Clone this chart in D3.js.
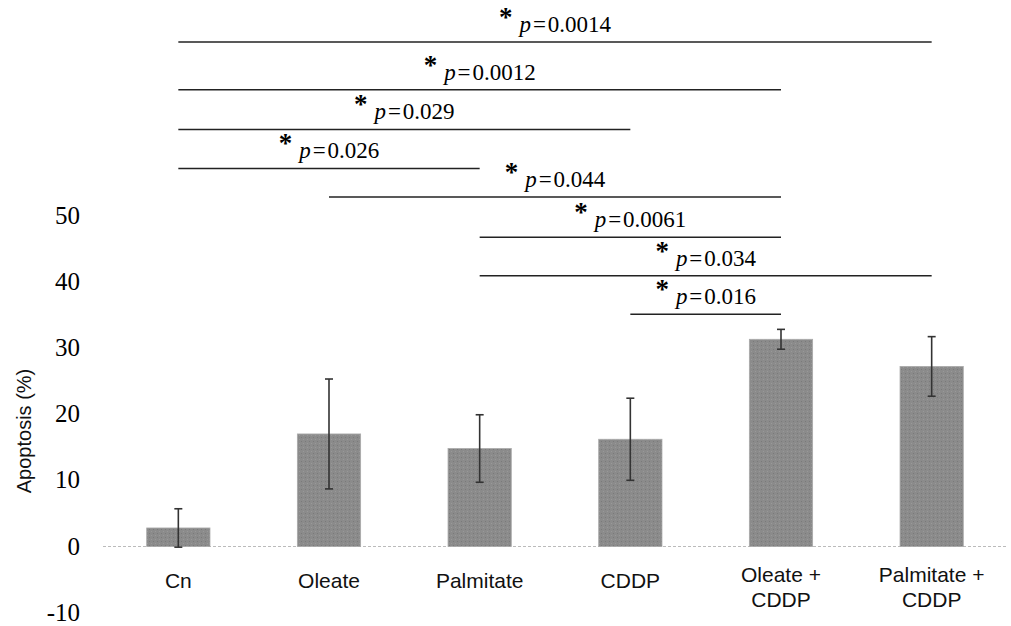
<!DOCTYPE html>
<html>
<head>
<meta charset="utf-8">
<script src="https://cdn.jsdelivr.net/npm/d3@7"></script>
<style>
  body { margin: 0; background: #fff; }
</style>
</head>
<body>
<div id="chart"></div>
<script>
// groups and values (apoptosis %, mean and error)
var groups = ["Cn", "Oleate", "Palmitate", "CDDP", "Oleate + CDDP", "Palmitate + CDDP"];
var means = [2.8, 17.0, 14.8, 16.2, 31.3, 27.2];
var errors = [2.9, 8.3, 5.1, 6.2, 1.5, 4.5];
var yTicks = [-10, 0, 10, 20, 30, 40, 50];

// significance brackets: from group, to group, bracket height (% units), p text
var sigFrom = [0, 0, 0, 0, 1, 2, 2, 3];
var sigTo = [5, 4, 3, 2, 4, 4, 5, 4];
var sigLevel = [76.2, 69.0, 63.0, 57.1, 52.8, 46.7, 40.9, 35.1];
var sigP = ["0.0014", "0.0012", "0.029", "0.026", "0.044", "0.0061", "0.034", "0.016"];

var width = 1011, height = 626;

var svg = d3.select("#chart")
    .append("svg")
    .attr("width", width)
    .attr("height", height);

var x = d3.scaleBand()
    .domain(groups)
    .range([103, 1007])
    .paddingInner(0.58)
    .paddingOuter(0.29);

var y = d3.scaleLinear()
    .domain([-10, 50])
    .range([612.7, 215.5]);

// dotted texture for bars
var pat = svg.append("defs").append("pattern")
    .attr("id", "dots")
    .attr("width", 4)
    .attr("height", 4)
    .attr("patternUnits", "userSpaceOnUse");
pat.append("rect").attr("width", 4).attr("height", 4).attr("fill", "#8b8b8b");
pat.append("rect").attr("x", 1).attr("y", 1).attr("width", 1).attr("height", 1).attr("fill", "#7a7a7a");
pat.append("rect").attr("x", 3).attr("y", 3).attr("width", 1).attr("height", 1).attr("fill", "#999");

// y axis tick labels (no axis line), plain hyphen for negatives
var yAxis = d3.axisLeft(y)
    .tickValues(yTicks)
    .tickFormat(function (d) { return String(d); })
    .tickSize(0)
    .tickPadding(0);
var gy = svg.append("g")
    .attr("transform", "translate(80,0)")
    .call(yAxis);
gy.select(".domain").remove();
gy.selectAll("text")
    .attr("font-family", "'Liberation Serif', 'Times New Roman', serif")
    .attr("font-size", 25)
    .attr("fill", "#000")
    .attr("dy", "0.3em");

svg.append("text")
    .text("Apoptosis (%)")
    .attr("transform", "translate(31,431) rotate(-90)")
    .attr("text-anchor", "middle")
    .attr("font-family", "'Liberation Sans', Arial, sans-serif")
    .attr("font-size", 20)
    .attr("fill", "#111");

// zero line
svg.append("line")
    .attr("x1", 103)
    .attr("x2", 1008)
    .attr("y1", y(0))
    .attr("y2", y(0))
    .attr("stroke", "#bbb")
    .attr("stroke-width", 1)
    .attr("stroke-dasharray", "3,2");

// bars
svg.selectAll(".bar")
    .data(groups)
    .enter()
    .append("rect")
    .attr("class", "bar")
    .attr("x", function (d) { return x(d); })
    .attr("width", x.bandwidth())
    .attr("y", function (d, i) { return y(means[i]); })
    .attr("height", function (d, i) { return y(0) - y(means[i]); })
    .attr("fill", "url(#dots)")
    .attr("stroke", "#aaa")
    .attr("stroke-width", 0.8);

// error bars
var cx = function (d) { return x(d) + x.bandwidth() / 2; };
var eb = svg.selectAll(".err")
    .data(groups)
    .enter()
    .append("g")
    .attr("class", "err")
    .attr("stroke", "#333")
    .attr("stroke-width", 1.6);
eb.append("line")
    .attr("x1", cx).attr("x2", cx)
    .attr("y1", function (d, i) { return y(means[i] - errors[i]); })
    .attr("y2", function (d, i) { return y(means[i] + errors[i]); });
eb.append("line")
    .attr("x1", function (d) { return cx(d) - 4; })
    .attr("x2", function (d) { return cx(d) + 4; })
    .attr("y1", function (d, i) { return y(means[i] + errors[i]); })
    .attr("y2", function (d, i) { return y(means[i] + errors[i]); });
eb.append("line")
    .attr("x1", function (d) { return cx(d) - 4; })
    .attr("x2", function (d) { return cx(d) + 4; })
    .attr("y1", function (d, i) { return y(means[i] - errors[i]); })
    .attr("y2", function (d, i) { return y(means[i] - errors[i]); });

// x category labels, split after "+"
svg.selectAll(".xlab")
    .data(groups)
    .enter()
    .append("text")
    .attr("class", "xlab")
    .attr("text-anchor", "middle")
    .attr("font-family", "'Liberation Sans', Arial, sans-serif")
    .attr("font-size", 21)
    .attr("fill", "#111")
    .each(function (d) {
        var parts = d.indexOf("+") > 0 ? [d.split("+")[0] + "+", d.split("+")[1].trim()] : [d];
        var t = d3.select(this);
        var y0 = parts.length > 1 ? 582 : 588;
        parts.forEach(function (p, k) {
            t.append("tspan")
                .attr("x", cx(d))
                .attr("y", y0 + k * 25)
                .text(p);
        });
    });

// significance brackets
var sig = svg.selectAll(".sig")
    .data(sigP)
    .enter()
    .append("g")
    .attr("class", "sig");

sig.append("line")
    .attr("x1", function (d, i) { return cx(groups[sigFrom[i]]); })
    .attr("x2", function (d, i) { return cx(groups[sigTo[i]]); })
    .attr("y1", function (d, i) { return y(sigLevel[i]); })
    .attr("y2", function (d, i) { return y(sigLevel[i]); })
    .attr("stroke", "#222")
    .attr("stroke-width", 1.5);

var lab = sig.append("text")
    .attr("x", function (d, i) { return (cx(groups[sigFrom[i]]) + cx(groups[sigTo[i]])) / 2; })
    .attr("y", function (d, i) { return y(sigLevel[i]) - 10; })
    .attr("text-anchor", "middle")
    .attr("font-family", "'Liberation Serif', 'Times New Roman', serif")
    .attr("font-size", 23)
    .attr("fill", "#000");
lab.append("tspan")
    .attr("font-weight", "bold")
    .attr("font-size", 27)
    .attr("dy", -6)
    .text("*");
lab.append("tspan")
    .attr("dy", 6)
    .attr("dx", 7)
    .attr("font-style", "italic")
    .text("p");
lab.append("tspan")
    .text(function (d) { return "\u200a=\u200a" + d; });
</script>
</body>
</html>
